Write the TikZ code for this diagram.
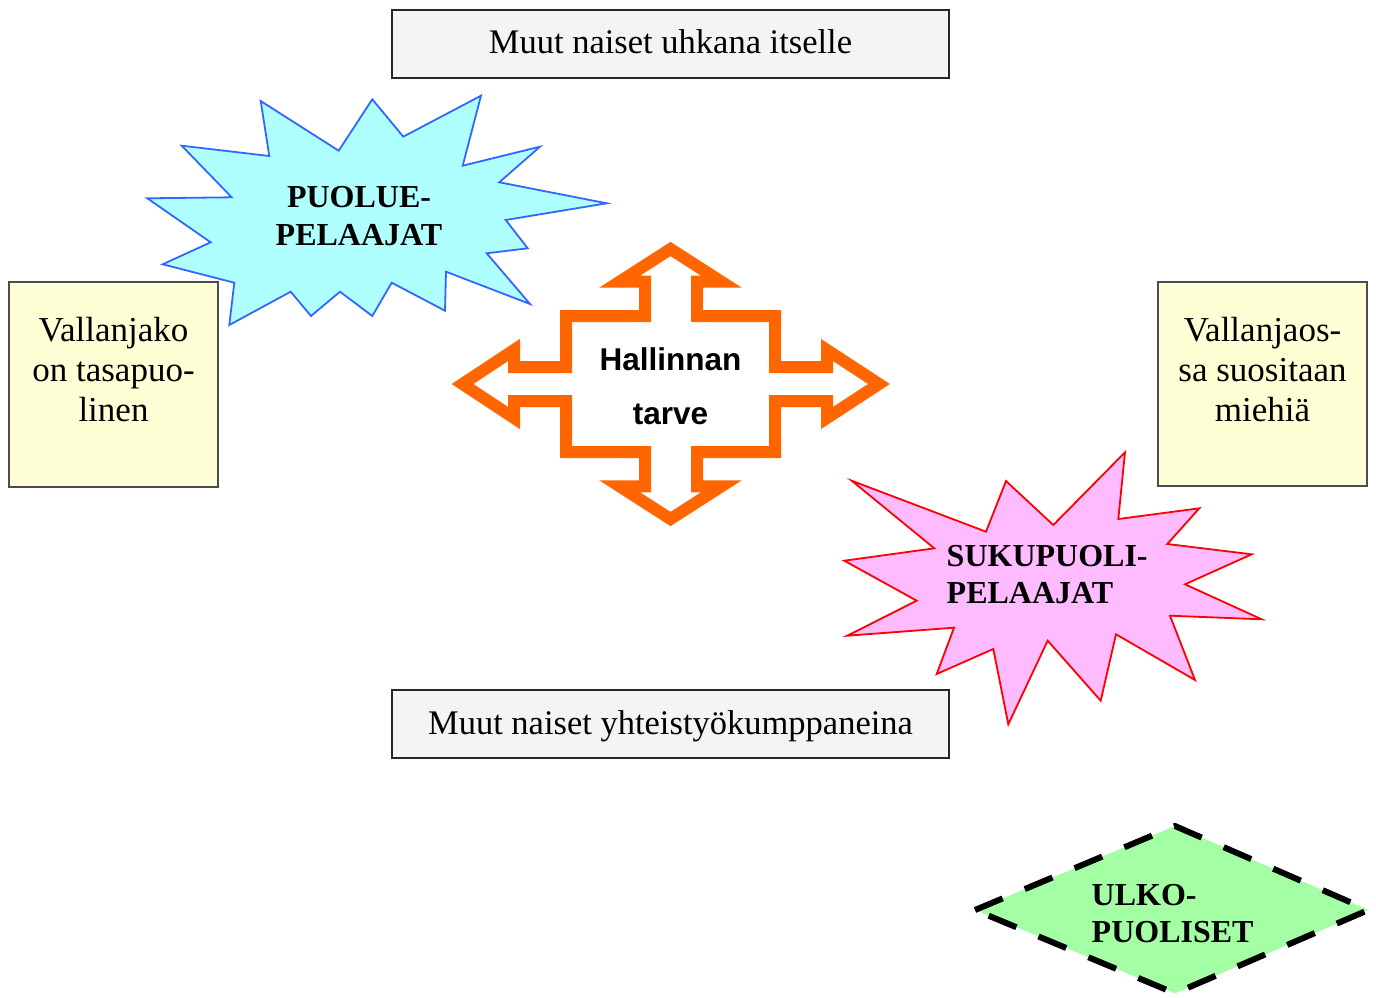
\documentclass[tikz,border=0pt]{standalone}
\usepackage{fontspec}
\setmainfont{Liberation Serif}
\setsansfont{Liberation Sans}
\definecolor{burstblue}{RGB}{176,255,255}
\definecolor{burstblueline}{RGB}{51,102,255}
\definecolor{burstpink}{RGB}{255,187,255}
\definecolor{outsidegreen}{RGB}{164,255,164}
\definecolor{crossorange}{RGB}{255,102,0}
\definecolor{notegray}{RGB}{244,244,244}
\definecolor{noteyellow}{RGB}{255,255,214}

\begin{document}
\begin{tikzpicture}[
          x=1pt, y=-1pt,
          every node/.style={inner sep=0pt, outer sep=0pt},
          graybox/.style={draw=black!85, line width=1.6pt, fill=notegray, minimum width=557, minimum height=68,
                          font=\fontsize{34.5}{40}\selectfont, text height=25, text depth=5},
          yellowbox/.style={draw=black!70, line width=1.2pt, fill=noteyellow, minimum width=209, minimum height=205},
          notetext/.style={align=center, font=\fontsize{35}{40}\selectfont},
          bursttext/.style={font=\fontsize{32}{37.7}\selectfont\bfseries}
    ]

    \path[use as bounding box, fill=white] (0,0) rectangle (1376,998);

    % boxes
    \node[graybox] (threat) at (670.5,44) {Muut naiset uhkana itselle};
    \node[graybox] (partners) at (670.5,724) {Muut naiset yhteistyökumppaneina};

    \node[yellowbox] (shareL) at (113.5,384.5) {};
    \node[notetext, anchor=north] (shareLtext) at (113.5,316.8) {Vallanjako\\on tasapuo-\\linen};
    \node[yellowbox, minimum height=204] (shareR) at (1262.5,384) {};
    \node[notetext, anchor=north] (shareRtext) at (1262.5,316.8) {Vallanjaos-\\sa suositaan\\miehiä};

    % party players
    \draw[draw=burstblueline, line width=1.8pt, fill=burstblue]
        (260.7,101) -- (338.7,150.7) -- (372.3,99.3) -- (403.3,136.7) -- (481,95.7) -- (462.7,165.7)
        -- (540,146.7) -- (499.3,182.3) -- (606.7,203.3) -- (505.7,220) -- (527.7,248.3) -- (486.7,253.3)
        -- (530,304) -- (446,271.7) -- (445,310.7) -- (391.7,282.7) -- (372.3,316) -- (340,291.7)
        -- (311,316) -- (290.7,291.7) -- (229.3,325) -- (234.3,282.7) -- (162.7,264.3) -- (210.7,242.3)
        -- (147.3,198.3) -- (231.7,197.3) -- (181.7,145.7) -- (269.3,156) -- cycle;
    \node[bursttext, align=center, anchor=north] (party) at (359,186.7) {PUOLUE-\\PELAAJAT};

    % gender players
    \draw[draw=red, line width=1.8pt, fill=burstpink]
        (851.7,480.7) -- (986,531.7) -- (1006,481) -- (1053.3,525) -- (1125,452.3) -- (1118.3,519)
        -- (1199.3,508.3) -- (1167.3,544) -- (1251.7,554.3) -- (1185,584.3) -- (1261.7,619.3) -- (1170,615.7)
        -- (1195,680) -- (1116,634.3) -- (1100.7,700.7) -- (1047.7,640.7) -- (1008.3,724.3) -- (993.3,649)
        -- (936.7,674) -- (954,627.7) -- (847.3,635.7) -- (916.7,600.7) -- (844.3,560.7) -- (934.3,548.3) -- cycle;
    \node[bursttext, align=left, anchor=north west] (gender) at (946.7,545) {SUKUPUOLI-\\PELAAJAT};

    % need for control
    \draw[draw=crossorange, line width=12pt, fill=white]
        (670.5,249) -- (721.4,281.7) -- (697,281.7) -- (697,316) -- (775,316) -- (775,367) -- (827,367)
        -- (827,350) -- (879,384) -- (827,418) -- (827,401) -- (775,401) -- (775,452) -- (697,452)
        -- (697,486.3) -- (721.4,486.3) -- (670.5,519) -- (619.6,486.3) -- (645,486.3) -- (645,452)
        -- (566,452) -- (566,401) -- (514,401) -- (514,418) -- (462.5,384) -- (514,350) -- (514,367)
        -- (566,367) -- (566,316) -- (645,316) -- (645,281.7) -- (619.6,281.7) -- cycle;
    \node[align=center, anchor=north, font=\fontsize{31.5}{54}\selectfont\sffamily\bfseries] (control) at (670.5,347.3) {Hallinnan\\tarve};

    % outsiders
    \draw[draw=black, line width=6pt, dash pattern=on 30pt off 24pt, fill=outsidegreen]
        (975,910) -- (1175,826) -- (1368.3,910) -- (1175,993.3) -- cycle;
    \node[bursttext, align=left, anchor=north west] (outsiders) at (1091.7,884) {ULKO-\\PUOLISET};

\end{tikzpicture}
\end{document}
